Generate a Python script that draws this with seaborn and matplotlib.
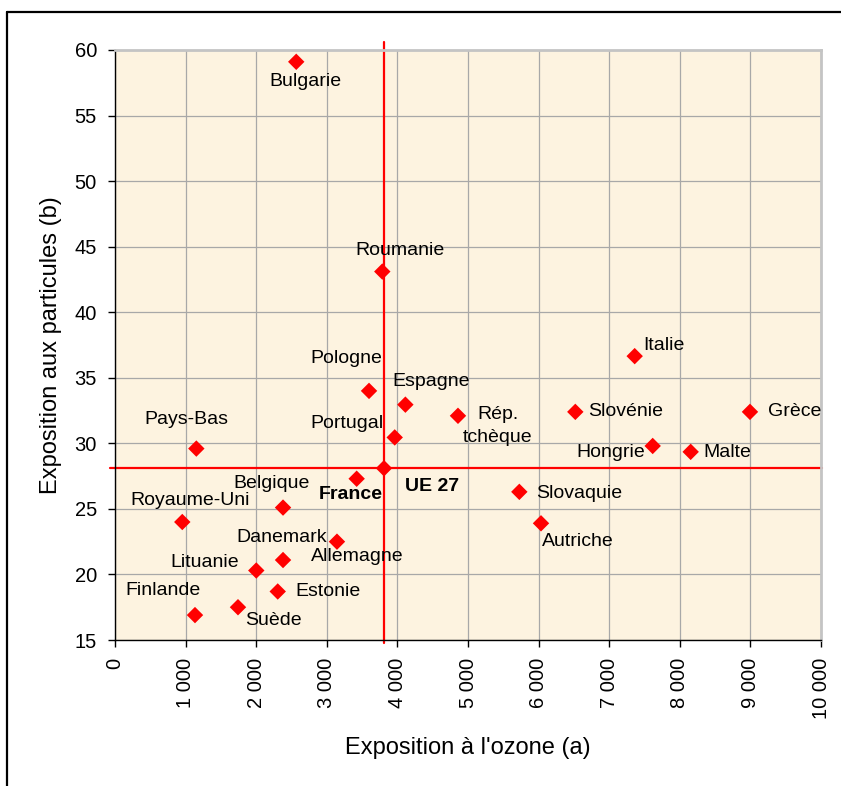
import matplotlib
matplotlib.use("Agg")
import matplotlib.pyplot as plt
from matplotlib.lines import Line2D
from matplotlib.ticker import FuncFormatter, MultipleLocator
import seaborn as sns
import pandas as pd

# Exposition à l'ozone (a) et aux particules (b) par pays de l'UE
pays = ["Bulgarie", "Roumanie", "Pologne", "Espagne", "Portugal", "Rép.\ntchèque",
        "Italie", "Slovénie", "Grèce", "Hongrie", "Malte", "Slovaquie", "Autriche",
        "UE 27", "France", "Pays-Bas", "Belgique", "Royaume-Uni", "Danemark",
        "Allemagne", "Lituanie", "Estonie", "Finlande", "Suède"]
ozone = [2567, 3786, 3598, 4113, 3962, 4858,
         7361, 6520, 8994, 7616, 8154, 5727, 6034,
         3810, 3423, 1152, 2380, 953, 2380,
         3144, 2001, 2305, 1133, 1742]
particules = [59.1, 43.1, 34.0, 32.95, 30.45, 32.1,
              36.65, 32.4, 32.4, 29.8, 29.35, 26.3, 23.9,
              28.1, 27.3, 29.6, 25.1, 24.0, 21.1,
              22.5, 20.3, 18.7, 16.9, 17.5]

# Moyenne UE 27, tracée en lignes de référence
ue_ozone = 3810
ue_particules = 28.1

# Placement des étiquettes : (décalage x, décalage y en points, alignement)
placement = {
    "Bulgarie": (6.8, -14.0, "center"),
    "Roumanie": (12.7, 15.1, "center"),
    "Pologne": (-16.6, 23.0, "center"),
    "Espagne": (18.5, 17.0, "center"),
    "Portugal": (-8.4, 10.3, "right"),
    "Rép.\ntchèque": (28.8, -7.4, "center"),
    "Italie": (6.0, 7.9, "left"),
    "Slovénie": (9.1, 0.5, "left"),
    "Grèce": (13.0, 0.5, "left"),
    "Hongrie": (-5.5, -4.8, "right"),
    "Malte": (8.9, -0.2, "left"),
    "Slovaquie": (12.0, -1.2, "left"),
    "Autriche": (0.5, -13.2, "left"),
    "UE 27": (15.1, -13.0, "left"),
    "France": (19.0, -11.7, "right"),
    "Pays-Bas": (-7.4, 21.1, "center"),
    "Belgique": (-8.6, 17.1, "center"),
    "Royaume-Uni": (5.5, 15.6, "center"),
    "Danemark": (-0.7, 16.3, "center"),
    "Allemagne": (14.4, -11.0, "center"),
    "Lituanie": (-12.5, 5.8, "right"),
    "Estonie": (12.5, -0.2, "left"),
    "Finlande": (-23.0, 17.5, "center"),
    "Suède": (25.6, -9.9, "center"),
}
en_gras = {"UE 27", "France"}

df = pd.DataFrame({"pays": pays, "ozone": ozone, "particules": particules})

sns.set_theme(style="white")
plt.rcParams["font.family"] = ["Liberation Sans", "DejaVu Sans"]

fig = plt.figure(figsize=(8.41, 7.86), dpi=100)
fig.patch.set_facecolor("white")
ax = fig.add_axes([115 / 841, 1 - 640 / 786, 706 / 841, 590 / 786])
ax.set_facecolor("#FDF3E0")

ax.set_xlim(0, 10000)
ax.set_ylim(15, 60)
ax.xaxis.set_major_locator(MultipleLocator(1000))
ax.yaxis.set_major_locator(MultipleLocator(5))
ax.xaxis.set_major_formatter(FuncFormatter(lambda v, p: f"{int(v):,}".replace(",", " ")))

ax.grid(True, color="#A8A8A8", linewidth=0.9)
ax.set_axisbelow(True)

for side in ("top", "right"):
    ax.spines[side].set_color("#C4C4C4")
    ax.spines[side].set_linewidth(2.0)
for side in ("left", "bottom"):
    ax.spines[side].set_color("black")
    ax.spines[side].set_linewidth(1.0)

ax.tick_params(axis="both", which="major", direction="out", length=5, width=1,
               color="black", labelsize=14.5, labelcolor="black",
               left=True, bottom=True)
ax.tick_params(axis="x", labelrotation=90, pad=8)
ax.tick_params(axis="y", pad=8)

# Lignes de référence UE 27
ax.axvline(ue_ozone, ymin=-0.005, ymax=1.014, color="#FF0000", lw=1.6,
           clip_on=False, zorder=2)
ax.axhline(ue_particules, xmin=-0.007, xmax=1.001, color="#FF0000", lw=1.6,
           clip_on=False, zorder=2)

sns.scatterplot(data=df, x="ozone", y="particules", marker="D", s=70,
                color="#FF0000", edgecolor="none", linewidth=0, ax=ax,
                zorder=3, clip_on=False, legend=False)

for nom, xv, yv in zip(pays, ozone, particules):
    dx, dy, ha = placement[nom]
    ax.annotate(nom, (xv, yv), xytext=(dx, dy), textcoords="offset points",
                ha=ha, va="center", fontsize=14, color="black",
                fontweight="bold" if nom in en_gras else "normal",
                linespacing=1.4, multialignment="center", zorder=4)

ax.set_xlabel("Exposition à l'ozone (a)", fontsize=17, color="black")
ax.set_ylabel("Exposition aux particules (b)", fontsize=17, color="black")
ax.xaxis.set_label_coords(353 / 706, -97 / 590)
ax.yaxis.set_label_coords(-53 / 706, 0.5)

# Cadre extérieur
fig.add_artist(Line2D([7 / 841, 1.0], [1 - 12 / 786, 1 - 12 / 786],
                      transform=fig.transFigure, color="black", lw=1.6))
fig.add_artist(Line2D([7 / 841, 7 / 841], [0.0, 1 - 12 / 786],
                      transform=fig.transFigure, color="black", lw=1.6))

fig.savefig("out.png", dpi=100, facecolor="white")
